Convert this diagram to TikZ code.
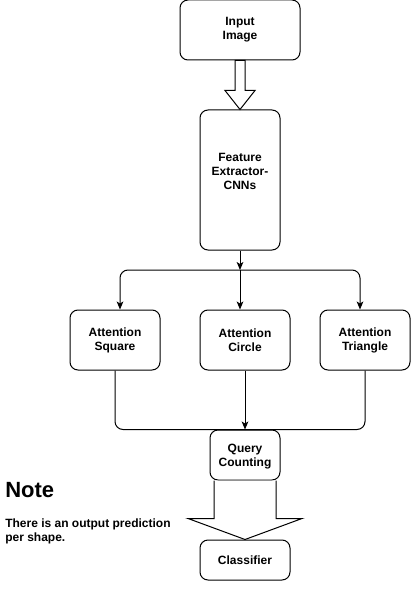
\documentclass[tikz,border=0pt]{standalone}
\usepackage{fontspec}
\setmainfont{Liberation Sans}
\usetikzlibrary{arrows.meta,calc}
\tikzset{
  block/.style={
    draw=black,
    rounded corners=6pt,
    line width=0.75pt,
    fill=white,
    align=center,
    inner sep=1pt,
    font=\fontsize{9}{10.5}\selectfont\bfseries
  },
  blocktext/.style={align=center, inner sep=1pt, font=\fontsize{9}{10.5}\selectfont\bfseries},
  edge/.style={-{Stealth[length=6pt,width=5pt,inset=1.5pt]}, line width=0.75pt},
  link/.style={line width=0.75pt, rounded corners=6pt},
  hollow/.style={draw=black, line width=0.75pt, fill=white, line join=miter},
  notetext/.style={anchor=west, inner sep=0pt, font=\bfseries, align=left}
}

\begin{document}
\begin{tikzpicture}[x=0.75pt, y=-0.75pt]
  \useasboundingbox (0,0) rectangle (411,591);
  \node[block, minimum width=90pt, minimum height=45pt] (img) at (240,30) {Input\\Image};
  \node[block, minimum width=60pt, minimum height=105pt] (feat) at (240,180) {};
  \node[blocktext] (featlabel) at (240,171) {Feature\\Extractor-\\CNNs};
  \node[block, minimum width=67.5pt, minimum height=45pt] (sq) at (115,340) {Attention\\Square};
  \node[block, minimum width=67.5pt, minimum height=45pt] (ci) at (245,340) {Attention\\Circle};
  \node[block, minimum width=67.5pt, minimum height=45pt] (tr) at (365,340) {Attention\\Triangle};
  \node[block, minimum width=52.5pt, minimum height=37.5pt] (qc) at (245,455) {};
  \node[blocktext] (qclabel) at (245,457) {Query\\Counting};
  \node[block, minimum width=67.5pt, minimum height=30pt] (cls) at (245,560) {Classifier};
  \coordinate (br) at (240,270);

  % block arrows
  \draw[hollow] ($(img.south)+(-5,0)$) -- ++(0,30) -- ++(-10,0) -- (feat.north)
    -- ($(img.south)+(15,30)$) -- ++(-10,0) -- ($(img.south)+(5,0)$) -- cycle;
  \draw[hollow] ($(qc.south)+(-31,0)$) -- ++(0,38) -- ++(-26,0) -- (cls.north)
    -- ($(qc.south)+(57,38)$) -- ++(-26,0) -- ($(qc.south)+(31,0)$);

  \draw[edge] (feat) -- (br);
  \draw[edge, rounded corners=6pt] (br) -| ($(sq.north)+(5,0)$);
  \draw[edge] (br) -- ($(ci.north)+(-5,0)$);
  \draw[edge, rounded corners=6pt] (br) -| ($(tr.north)+(-5,0)$);

  \draw[link] (sq.south) |- (qc.north);
  \draw[link] (tr.south) |- (qc.north);
  \draw[edge] (ci.south) -- (qc.north);

  \node[notetext, font=\fontsize{16.5}{18}\selectfont\bfseries] (note) at (5,490) {Note};
  \node[notetext, font=\fontsize{9}{10.5}\selectfont\bfseries, anchor=north west] (notebody) at (5,519) {There is an output prediction\\per shape.};
\end{tikzpicture}
\end{document}
